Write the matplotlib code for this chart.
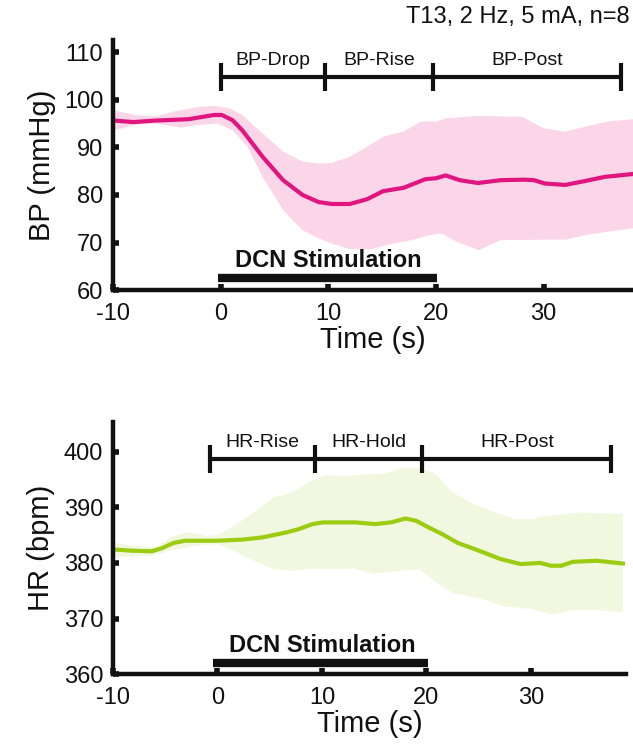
import numpy as np
import matplotlib
matplotlib.use("Agg")
import matplotlib.pyplot as plt

plt.rcParams['font.family'] = ['Liberation Sans', 'DejaVu Sans']
plt.rcParams['axes.unicode_minus'] = False

# ---- BP panel data ----
bp_t = [-9.8, -8.1, -6.2, -3.0, -0.6, 0.1, 1.1, 2.0, 3.9, 5.8, 7.6, 9.1, 10.3, 12.0,
        13.6, 15.1, 17.0, 19.0, 20.0, 20.9, 22.2, 23.9, 26.0, 28.2, 29.1, 30.1, 32.0,
        33.8, 35.7, 38.3]
bp_mean = [95.6, 95.3, 95.6, 95.9, 96.8, 96.8, 95.7, 93.6, 88.0, 83.1, 80.0, 78.5, 78.1, 78.1,
           79.1, 80.8, 81.5, 83.3, 83.5, 84.1, 83.1, 82.5, 83.1, 83.2, 83.1, 82.4, 82.1,
           82.9, 83.8, 84.4]
bp_up_t = [-9.8, -8.0, -6.0, -4.0, -2.0, -0.6, 0.8, 2.0, 3.9, 5.8, 7.6, 9.1, 10.3, 12.0,
           13.6, 15.1, 17.0, 18.6, 20.0, 21.0, 24.0, 28.0, 30.0, 32.0, 34.0, 36.0, 38.3]
bp_up = [97.7, 96.8, 96.5, 97.7, 98.5, 98.7, 98.2, 96.8, 92.9, 89.1, 87.0, 86.6, 86.7, 88.0,
         90.1, 92.2, 93.3, 95.4, 95.4, 96.1, 96.6, 96.4, 94.0, 93.3, 94.4, 95.4, 95.9]
bp_lo_t = [-9.8, -8.0, -6.0, -3.7, -2.0, -0.3, 1.1, 2.5, 3.9, 5.8, 7.6, 9.1, 10.3, 12.0,
           14.0, 15.5, 17.5, 19.5, 20.5, 22.0, 24.0, 26.0, 30.0, 32.0, 34.0, 36.0, 38.3]
bp_lo = [93.6, 94.7, 95.0, 94.1, 94.7, 95.0, 93.6, 90.1, 83.8, 76.8, 72.6, 70.9, 69.8, 68.6,
         68.6, 69.5, 70.4, 71.6, 71.9, 70.1, 68.4, 70.5, 70.6, 70.6, 71.6, 72.3, 73.0]

# ---- HR panel data ----
hr_t = [-9.8, -8.1, -6.3, -5.4, -4.2, -3.1, -1.5, 0.0, 2.4, 4.3, 6.6, 7.8, 9.1, 10.1,
        13.2, 15.1, 16.6, 18.0, 19.0, 20.1, 21.5, 23.0, 24.9, 27.1, 29.0, 30.9, 31.9,
        32.9, 34.0, 36.3, 38.8]
hr_mean = [382.4, 382.2, 382.1, 382.6, 383.6, 384.0, 384.0, 384.0, 384.2, 384.6, 385.5, 386.1,
           387.0, 387.3, 387.3, 387.0, 387.3, 388.0, 387.6, 386.5, 385.2, 383.6, 382.3, 380.7,
           379.8, 380.0, 379.5, 379.5, 380.2, 380.4, 379.9]
hr_up_t = [-9.8, -8.0, -6.0, -4.2, -2.7, -1.0, 0.0, 1.6, 3.5, 5.4, 7.2, 8.8, 10.4, 12.0,
           14.0, 16.0, 17.7, 19.3, 20.8, 22.5, 24.5, 26.6, 28.5, 30.0, 31.5, 33.0, 34.5, 38.8]
hr_up = [383.6, 383.1, 382.8, 384.9, 385.5, 384.9, 385.0, 386.7, 389.1, 391.8, 392.7, 394.6,
         395.8, 395.6, 395.9, 396.1, 397.1, 397.1, 396.1, 392.7, 390.6, 389.1, 387.9, 387.9,
         388.5, 388.7, 389.1, 388.8]
hr_lo_t = [-9.8, -8.0, -6.3, -4.5, -2.0, 0.0, 1.9, 3.5, 5.4, 7.0, 9.1, 11.0, 13.0, 15.0,
           17.5, 19.3, 20.8, 22.5, 25.0, 27.5, 30.0, 32.0, 34.0, 36.5, 38.8]
hr_lo = [381.1, 381.1, 381.3, 382.2, 383.1, 383.4, 381.9, 380.4, 378.9, 378.6, 379.0, 378.9,
         379.0, 378.1, 378.6, 378.9, 376.7, 374.6, 373.7, 372.2, 371.7, 370.7, 371.5, 371.5,
         371.1]

bp_phases = ['BP-Drop', 'BP-Rise', 'BP-Post']
bp_bounds = [0.0, 9.7, 19.7, 37.2]
hr_phases = ['HR-Rise', 'HR-Hold', 'HR-Post']
hr_bounds = [-0.7, 9.3, 19.6, 37.7]

BP_LINE, BP_BAND = '#E0157F', '#FAD6E8'
HR_LINE, HR_BAND = '#9BCC12', '#F2F8DF'
K = '#111111'

fig = plt.figure(figsize=(6.33, 7.44), dpi=100)
ax1 = fig.add_axes([0.1785, 0.610, 0.8215, 0.336])
ax2 = fig.add_axes([0.1785, 0.094, 0.8105, 0.339])


def style(ax, ylim, yticks, xlim):
    for s in ['top', 'right']:
        ax.spines[s].set_visible(False)
    for s in ['left', 'bottom']:
        ax.spines[s].set_linewidth(3.2)
        ax.spines[s].set_color(K)
    ax.set_xlim(*xlim)
    ax.set_ylim(*ylim)
    ax.set_xticks([-10, 0, 10, 20, 30])
    ax.set_yticks(yticks)
    ax.tick_params(direction='in', length=4, width=4, color=K, labelsize=17,
                   labelcolor=K)
    ax.tick_params(axis='y', pad=7)
    ax.tick_params(axis='x', pad=9)
    ax.set_xlabel('Time (s)', fontsize=21, color=K, labelpad=1)


def phases(ax, names, bounds, y, h, ty):
    ax.plot([bounds[0], bounds[-1]], [y, y], color=K, lw=3, solid_capstyle='butt')
    for b in bounds:
        ax.plot([b, b], [y - h, y + h], color=K, lw=3, solid_capstyle='butt')
    for i, n in enumerate(names):
        ax.text((bounds[i] + bounds[i + 1]) / 2, ty, n, ha='center', va='center',
                fontsize=14, color=K)


def stim(ax, x0, x1, y, ty):
    ax.plot([x0, x1], [y, y], color=K, lw=6, solid_capstyle='butt')
    ax.text(10, ty, 'DCN Stimulation', ha='center', va='center', fontsize=17,
            fontweight='bold', color=K)


# BP
ax1.fill(np.concatenate([bp_up_t, bp_lo_t[::-1]]), np.concatenate([bp_up, bp_lo[::-1]]),
         color=BP_BAND, lw=0)
ax1.plot(bp_t, bp_mean, color=BP_LINE, lw=3)
style(ax1, (60, 112.5), [60, 70, 80, 90, 100, 110], (-10, 38.3))
ax1.set_ylabel('BP (mmHg)', fontsize=21, color=K, labelpad=6)
phases(ax1, bp_phases, bp_bounds, 104.8, 2.9, 108.3)
stim(ax1, -0.25, 20.1, 62.6, 66.3)
fig.text(0.995, 0.977, 'T13, 2 Hz, 5 mA, n=8', ha='right', va='center', fontsize=17,
         color=K)

# HR
ax2.fill(np.concatenate([hr_up_t, hr_lo_t[::-1]]), np.concatenate([hr_up, hr_lo[::-1]]),
         color=HR_BAND, lw=0)
ax2.plot(hr_t, hr_mean, color=HR_LINE, lw=3)
style(ax2, (360, 405.4), [360, 370, 380, 390, 400], (-10, 39.1))
ax2.set_ylabel('HR (bpm)', fontsize=21, color=K, labelpad=6)
phases(ax2, hr_phases, hr_bounds, 398.7, 2.5, 401.6)
stim(ax2, -0.4, 20.1, 362.0, 365.2)

fig.savefig('out.png', dpi=100)
